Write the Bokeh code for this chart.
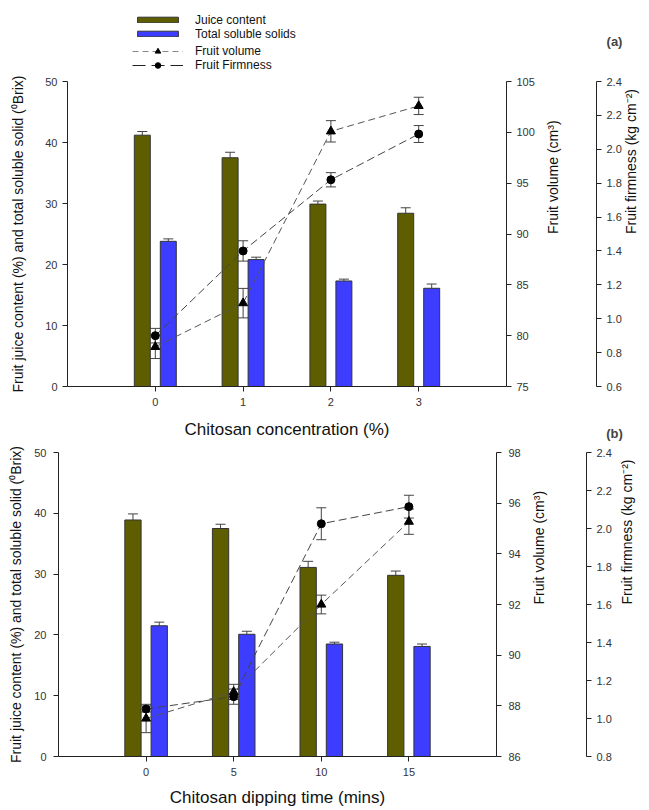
import math
import numpy as np
from bokeh.plotting import figure
from bokeh.models import (Range1d, LinearAxis, FixedTicker, NumeralTickFormatter, Whisker,
                          TeeHead, ColumnDataSource, Legend, LegendItem, Label)
from bokeh.layouts import column
from bokeh.embed import file_html
from bokeh.resources import INLINE

# ---------------- data: panel (a) ----------------
conc = [0, 1, 2, 3]
juice_a = [41.2, 37.5, 29.9, 28.4]
juice_a_err = [0.6, 0.9, 0.5, 0.9]
tss_a = [23.8, 20.8, 17.3, 16.1]
tss_a_err = [0.4, 0.4, 0.3, 0.7]
vol_a = [78.9, 83.2, 100.1, 102.6]
vol_a_err = [1.15, 1.45, 1.05, 0.85]
firm_a = [0.90, 1.40, 1.82, 2.09]
firm_a_err = [0.043, 0.06, 0.042, 0.05]

# ---------------- data: panel (b) ----------------
dip = [0, 5, 10, 15]
juice_b = [38.9, 37.5, 31.1, 29.8]
juice_b_err = [1.0, 0.7, 1.0, 0.7]
tss_b = [21.5, 20.1, 18.5, 18.1]
tss_b_err = [0.6, 0.5, 0.3, 0.4]
vol_b = [87.5, 88.55, 92.0, 95.27]
vol_b_err = [0.56, 0.3, 0.37, 0.5]
firm_b = [1.05, 1.115, 2.025, 2.115]
firm_b_err = [0.016, 0.04, 0.084, 0.06]

# ---------------- tick labels ----------------
left_ticks = [0, 10, 20, 30, 40, 50]
vol_a_ticks = [75, 80, 85, 90, 95, 100, 105]
firm_a_ticks = [0.6, 0.8, 1.0, 1.2, 1.4, 1.6, 1.8, 2.0, 2.2, 2.4]
vol_b_ticks = [86, 88, 90, 92, 94, 96, 98]
firm_b_ticks = [0.8, 1.0, 1.2, 1.4, 1.6, 1.8, 2.0, 2.2, 2.4]

JUICE = "#5E5E00"
TSS = "#3D3DFF"
FONT = "Liberation Sans"
AXC = "#222222"
VOL_LINE = dict(line_color="#555555", line_dash="7 4", line_width=1)
FIRM_LINE = dict(line_color="#444444", line_dash="8 4", line_width=1)
W = 649


def style_axis(ax, label_size="14px"):
    ax.major_tick_in = 0
    ax.major_tick_out = 5
    ax.minor_tick_line_color = None
    ax.axis_line_color = AXC
    ax.major_tick_line_color = AXC
    ax.major_label_text_font = FONT
    ax.major_label_text_font_size = "11px"
    ax.major_label_text_color = "#333333"
    ax.axis_label_text_font = FONT
    ax.axis_label_text_font_style = "normal"
    ax.axis_label_text_font_size = label_size
    ax.axis_label_text_color = "#111111"


def strip(h):
    s = figure(width=W, height=h, output_backend="svg", toolbar_location=None,
               x_range=Range1d(0, W), y_range=Range1d(0, h), frame_align=False,
               x_axis_location=None, y_axis_location=None, min_border=0)
    s.outline_line_color = None
    s.grid.visible = False
    return s


def make_panel(x, juice, juice_err, tss, tss_err, vol, vol_err, firm, firm_err,
               xrange, bar_off, bar_w, vol_rng, vol_ticks, firm_rng, firm_ticks,
               xlabel, height, mb_left, mb_right, mb_top, mb_bottom,
               left_std, left_lab_std, right_std, spacer_std, firm_lab_std):
    p = figure(width=W, height=height, output_backend="svg", toolbar_location=None,
               x_range=Range1d(*xrange), y_range=Range1d(0, 50), frame_align=False,
               min_border_left=mb_left, min_border_right=mb_right,
               min_border_top=mb_top, min_border_bottom=mb_bottom)
    p.outline_line_color = None
    p.grid.visible = False
    p.extra_y_ranges = {"vol": Range1d(*vol_rng), "firm": Range1d(*firm_rng)}

    xs = np.array(x, dtype=float)
    xj = xs - bar_off
    xt = xs + bar_off
    p.vbar(x=xj, top=juice, width=bar_w, fill_color=JUICE, line_color="#333333", line_width=1)
    p.vbar(x=xt, top=tss, width=bar_w, fill_color=TSS, line_color="#333333", line_width=1)

    # bar error bars (upper half only, as drawn in the original)
    for xx, v, e in ((xj, juice, juice_err), (xt, tss, tss_err)):
        src = ColumnDataSource(dict(x=xx, lo=np.array(v), hi=np.array(v) + np.array(e)))
        p.add_layout(Whisker(source=src, base="x", lower="lo", upper="hi", line_color="#444444",
                             upper_head=TeeHead(size=10, line_color="#444444"), lower_head=None))

    p.line(xs, vol, y_range_name="vol", **VOL_LINE)
    p.line(xs, firm, y_range_name="firm", **FIRM_LINE)

    for v, e, rn in ((vol, vol_err, "vol"), (firm, firm_err, "firm")):
        src = ColumnDataSource(dict(x=xs, lo=np.array(v) - np.array(e), hi=np.array(v) + np.array(e)))
        p.add_layout(Whisker(source=src, base="x", lower="lo", upper="hi", y_range_name=rn,
                             line_color="#444444",
                             upper_head=TeeHead(size=10, line_color="#444444"),
                             lower_head=TeeHead(size=10, line_color="#444444")))

    p.scatter(xs, vol, y_range_name="vol", marker="triangle", size=9, fill_color="black", line_color="black")
    p.scatter(xs, firm, y_range_name="firm", marker="circle", size=8, fill_color="black", line_color="black")

    # bottom axis
    p.xaxis.ticker = FixedTicker(ticks=list(x))
    style_axis(p.xaxis[0], "17px")
    p.xaxis.major_label_standoff = 6
    if xlabel:
        p.xaxis.axis_label = xlabel
        p.xaxis.axis_label_standoff = 9

    # left axis
    p.yaxis.ticker = FixedTicker(ticks=left_ticks)
    p.yaxis.axis_label = "Fruit juice content (%) and total soluble solid (\u2070Brix)"
    style_axis(p.yaxis[0], "14px")
    p.yaxis.major_label_standoff = left_std
    p.yaxis.axis_label_standoff = left_lab_std

    # right axes: fruit volume, spacer, fruit firmness
    av = LinearAxis(y_range_name="vol", ticker=FixedTicker(ticks=vol_ticks),
                    axis_label="Fruit volume (cm\u00b3)")
    style_axis(av)
    av.major_label_standoff = right_std
    av.axis_label_standoff = 15
    av.axis_label_orientation = math.pi / 2
    p.add_layout(av, "right")

    sp = LinearAxis(y_range_name="vol", ticker=FixedTicker(ticks=[]), axis_label=" ",
                    axis_line_color=None, major_tick_line_color=None, minor_tick_line_color=None,
                    major_tick_in=0, major_tick_out=0, minor_tick_in=0, minor_tick_out=0,
                    major_label_standoff=0, axis_label_standoff=spacer_std,
                    axis_label_text_font_size="1px")
    p.add_layout(sp, "right")

    af = LinearAxis(y_range_name="firm", ticker=FixedTicker(ticks=firm_ticks),
                    formatter=NumeralTickFormatter(format="0.0"),
                    axis_label="Fruit firmness (kg cm\u207b\u00b2)")
    style_axis(af)
    af.major_label_standoff = 5
    af.axis_label_standoff = firm_lab_std
    af.axis_label_orientation = math.pi / 2
    p.add_layout(af, "right")
    return p


# ---------------- top strip: legend and panel tag ----------------
top = strip(73)
dj = top.vbar(x=[np.nan], top=[np.nan], width=1, fill_color=JUICE, line_color="#333333")
dt = top.vbar(x=[np.nan], top=[np.nan], width=1, fill_color=TSS, line_color="#333333")
dlv = top.line(x=[np.nan], y=[np.nan], line_color="#888888", line_dash="6 4", line_width=1)
dsv = top.scatter(x=[np.nan], y=[np.nan], marker="triangle", fill_color="black", line_color="black")
dlf = top.line(x=[np.nan], y=[np.nan], line_color="#222222", line_dash="13 6", line_width=1)
dsf = top.scatter(x=[np.nan], y=[np.nan], marker="circle", fill_color="black", line_color="black")
leg_common = dict(glyph_width=51, label_height=13, spacing=0, padding=0, margin=0, label_standoff=12,
                  border_line_color=None, background_fill_alpha=0, label_text_font=FONT,
                  label_text_font_size="12px", label_text_color="#111111")
leg1 = Legend(items=[LegendItem(label="Juice content", renderers=[dj]),
                     LegendItem(label="Total soluble solids", renderers=[dt])],
              location=(132, 32.4), glyph_height=7, **leg_common)
leg2 = Legend(items=[LegendItem(label="Fruit volume", renderers=[dlv, dsv]),
                     LegendItem(label="Fruit Firmness", renderers=[dlf, dsf])],
              location=(132, 1.3), glyph_height=14, **leg_common)
top.add_layout(leg1)
top.add_layout(leg2)
top.add_layout(Label(x=614, y=32, text="(a)", text_font=FONT, text_font_style="bold",
                     text_font_size="13px", text_align="center", text_baseline="middle"))

# ---------------- panel (a) ----------------
pa = make_panel(
    conc, juice_a, juice_a_err, tss_a, tss_a_err, vol_a, vol_a_err, firm_a, firm_a_err,
    (-1, 4), 0.148, 0.182, (75, 105), vol_a_ticks, (0.6, 2.4), firm_a_ticks,
    None, 337, 67, 143, 8, 24, 5, 16, 5, 21, 6)

# ---------------- middle strip: x label of (a) and tag (b) ----------------
mid = strip(34)
mid.add_layout(Label(x=286.5, y=15, text="Chitosan concentration (%)", text_font=FONT,
                     text_font_size="17px", text_color="#111111", text_align="center",
                     text_baseline="middle"))
mid.add_layout(Label(x=614, y=10.7, text="(b)", text_font=FONT, text_font_style="bold",
                     text_font_size="13px", text_align="center", text_baseline="middle"))

# ---------------- panel (b) ----------------
pb = make_panel(
    dip, juice_b, juice_b_err, tss_b, tss_b_err, vol_b, vol_b_err, firm_b, firm_b_err,
    (-5, 20), 0.75, 0.93, (86, 98), vol_b_ticks, (0.8, 2.4), firm_b_ticks,
    "Chitosan dipping time (mins)", 365, 58, 153, 8, 52, 7, 7, 7, 25, 12)

layout = column(top, pa, mid, pb, spacing=0)
open("out.html", "w").write(file_html(layout, INLINE))
